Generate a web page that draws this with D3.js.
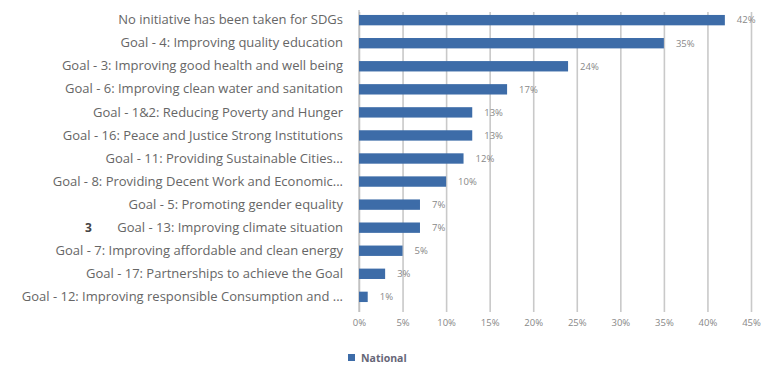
<!DOCTYPE html>
<html>
<head>
<meta charset="utf-8">
<script src="https://cdn.jsdelivr.net/npm/d3@7"></script>
<style>
  html, body { margin: 0; padding: 0; background: #fff; }
  svg { display: block; }
</style>
</head>
<body>
<svg id="chart" width="767" height="365"></svg>
<script>
// SDG initiatives taken, national share of respondents
const categories = [
  "No initiative has been taken for SDGs",
  "Goal - 4: Improving quality education",
  "Goal - 3: Improving good health and well being",
  "Goal - 6: Improving clean water and sanitation",
  "Goal - 1&2: Reducing Poverty and Hunger",
  "Goal - 16: Peace and Justice Strong Institutions",
  "Goal - 11: Providing Sustainable Cities...",
  "Goal - 8: Providing Decent Work and Economic...",
  "Goal - 5: Promoting gender equality",
  "Goal - 13: Improving climate situation",
  "Goal - 7: Improving affordable and clean energy",
  "Goal - 17: Partnerships to achieve the Goal",
  "Goal - 12: Improving responsible Consumption and ..."
];
const nationalValues = [42, 35, 24, 17, 13, 13, 12, 10, 7, 7, 5, 3, 1];
const tickValues = [0, 5, 10, 15, 20, 25, 30, 35, 40, 45];
const seriesName = "National";

const svg = d3.select("#chart");
const font = "'Open Sans', sans-serif";
const barColor = "#3d6ca8";

const x = d3.scaleLinear().domain([0, 45]).range([359, 751]);
const y = d3.scaleBand().domain(categories).range([8.5, 308.5]).paddingInner(0.55).paddingOuter(0.28);

// vertical gridlines
const grid = svg.append("g")
  .attr("transform", "translate(0,312)")
  .call(d3.axisBottom(x).tickValues(tickValues).tickSize(-300).tickFormat(""));
grid.select(".domain").remove();
grid.selectAll(".tick line").attr("stroke", "#c9c9c9").attr("stroke-width", 1.6);

// tick labels
const axis = svg.append("g")
  .attr("transform", "translate(0,316)")
  .call(d3.axisBottom(x).tickValues(tickValues).tickSize(0).tickFormat(d => d + "%"));
axis.select(".domain").remove();
axis.selectAll("text")
  .attr("font-family", font).attr("font-size", 9.5).attr("fill", "#888");

// category axis line
svg.append("line")
  .attr("x1", x(0)).attr("x2", x(0)).attr("y1", 10).attr("y2", 312)
  .attr("stroke", "#bcbcbc").attr("stroke-width", 1.2);

// category labels
const yAxis = svg.append("g")
  .attr("transform", "translate(" + (x(0) - 16) + ",0)")
  .call(d3.axisLeft(y).tickSize(0).tickPadding(0));
yAxis.select(".domain").remove();
yAxis.selectAll("text")
  .attr("font-family", font).attr("font-size", 13).attr("fill", "#666");

// bars
svg.append("g").selectAll("rect")
  .data(categories)
  .join("rect")
  .attr("x", x(0))
  .attr("y", d => y(d))
  .attr("width", (d, i) => x(nationalValues[i]) - x(0))
  .attr("height", y.bandwidth())
  .attr("fill", barColor);

// value labels
svg.append("g").selectAll("text")
  .data(categories)
  .join("text")
  .attr("x", (d, i) => x(nationalValues[i]) + 12)
  .attr("y", d => y(d) + y.bandwidth() / 2)
  .attr("dy", "0.35em")
  .attr("font-family", font).attr("font-size", 9.5).attr("fill", "#888")
  .text((d, i) => nationalValues[i] + "%");

// stray page number next to the labels
svg.append("text")
  .attr("x", 85).attr("y", 232)
  .attr("font-family", font).attr("font-size", 12).attr("font-weight", "bold").attr("fill", "#444")
  .text("3");

// legend
const legend = svg.append("g").attr("transform", "translate(348,354)");
legend.append("rect").attr("x", 0).attr("y", 0).attr("width", 7).attr("height", 7).attr("fill", barColor);
legend.append("text")
  .attr("x", 13).attr("y", 4).attr("dy", "0.35em")
  .attr("font-family", font).attr("font-size", 10.5).attr("font-weight", "bold").attr("fill", "#667")
  .text(seriesName);
</script>
</body>
</html>
